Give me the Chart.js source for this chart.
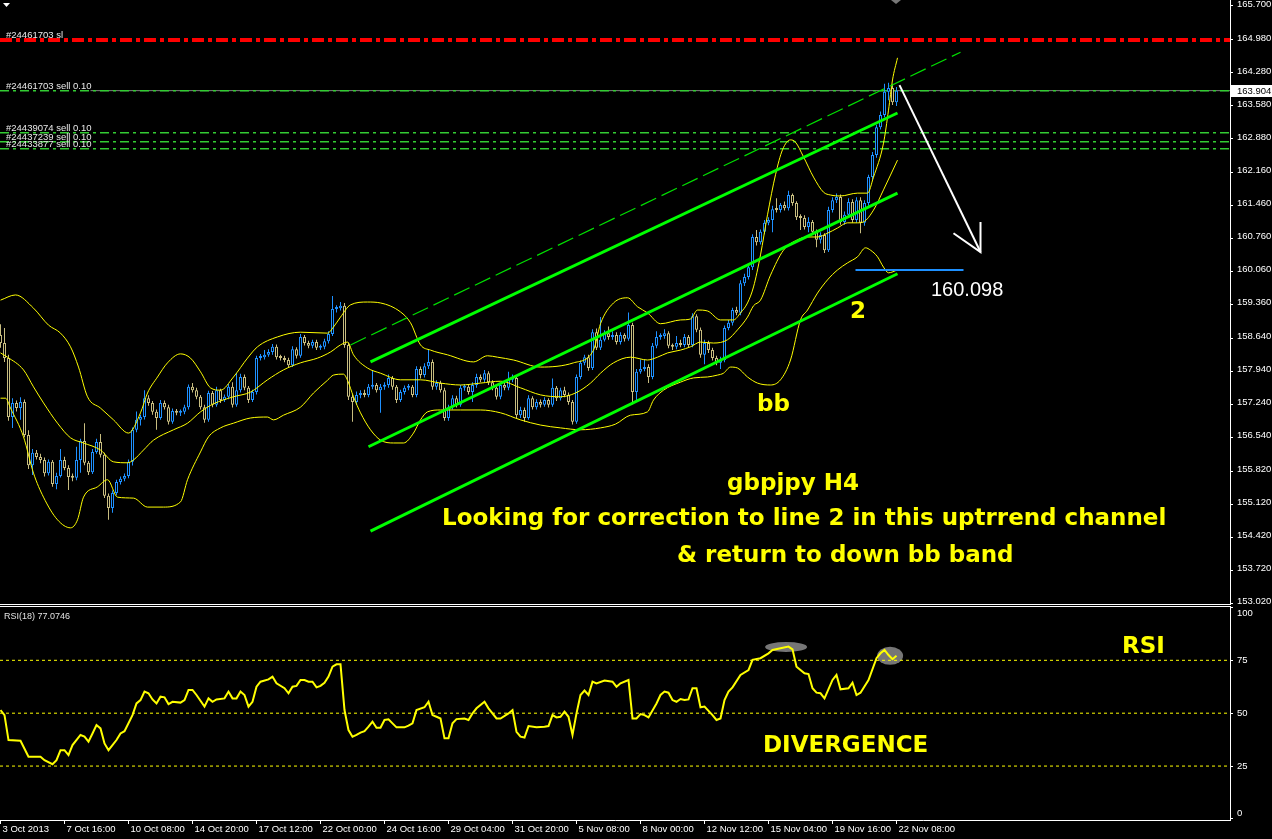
<!DOCTYPE html>
<html>
<head>
<meta charset="utf-8">
<script src="https://cdn.jsdelivr.net/npm/chart.js@4.4.0/dist/chart.umd.min.js"></script>
<style>
  html, body { margin: 0; padding: 0; background: #000; overflow: hidden; }
  #main { position: absolute; left: 0; top: 0; }
  #rsi { position: absolute; left: 0; top: 597px; }
</style>
</head>
<body>
<canvas id="main" width="1272" height="612"></canvas>
<canvas id="rsi" width="1272" height="242"></canvas>
<script>
// gbpjpy H4 - candles, bollinger bands, channel, RSI(18)

const firstOpen = 158.72;
const closes = [
  158.55,158.23,156.98,157.28,157.17,157.30,156.60,155.96,156.22,156.13,
  156.07,155.79,156.03,155.56,155.73,156.07,155.90,155.71,155.69,156.07,
  156.47,156.01,155.81,156.24,156.45,156.18,155.31,155.05,155.37,155.60,
  155.67,155.73,156.03,156.71,156.92,156.98,157.38,157.28,157.09,156.96,
  157.28,157.19,156.88,157.11,157.07,157.09,157.19,157.62,157.55,157.41,
  157.19,156.92,157.49,157.24,157.55,157.34,157.41,157.62,157.24,157.55,
  157.83,157.60,157.34,157.51,158.23,158.25,158.30,158.36,158.47,158.25,
  158.23,158.19,158.08,158.42,158.28,158.68,158.55,158.49,158.57,158.45,
  158.47,158.59,158.74,159.27,159.29,159.34,158.51,157.41,157.30,157.45,
  157.49,157.45,157.62,157.66,157.55,157.62,157.66,157.81,157.62,157.34,
  157.51,157.60,157.62,157.45,158.00,157.87,158.06,158.15,157.62,157.70,
  157.55,156.96,157.19,157.38,157.24,157.60,157.62,157.51,157.66,157.83,
  157.77,157.91,157.72,157.60,157.41,157.66,157.60,157.77,157.81,157.02,
  157.13,156.96,157.38,157.19,157.30,157.24,157.34,157.24,157.60,157.38,
  157.55,157.45,157.30,156.88,157.83,158.13,158.25,158.02,158.78,158.45,
  158.62,158.76,158.68,158.72,158.57,158.72,158.64,158.93,157.51,157.94,
  158.00,158.04,157.83,158.49,158.68,158.70,158.76,158.49,158.47,158.55,
  158.51,158.68,158.51,159.12,158.83,158.30,158.55,158.40,158.23,158.13,
  158.19,158.87,158.98,159.25,159.19,159.82,159.95,160.16,160.80,160.69,
  160.91,161.10,161.16,161.39,161.37,161.48,161.41,161.69,161.52,161.22,
  161.20,161.01,161.12,160.91,160.74,160.84,160.52,161.37,161.58,161.65,
  161.12,161.27,161.54,161.16,161.58,161.10,161.52,162.07,162.54,163.13,
  163.39,163.88,163.96,163.66,163.90
];
const highs = [
  158.95,158.87,158.30,157.38,157.33,157.40,157.35,156.70,156.30,156.28,
  156.20,156.12,156.08,156.07,155.80,156.30,156.14,155.96,155.78,156.35,
  156.52,156.85,156.05,156.30,156.52,156.62,156.22,155.36,155.42,155.65,
  155.72,155.78,156.08,156.76,157.10,157.03,157.55,157.44,157.32,157.14,
  157.34,157.33,157.24,157.16,157.15,157.14,157.24,157.67,157.70,157.60,
  157.45,157.24,157.54,157.53,157.62,157.58,157.46,157.68,157.72,157.92,
  157.90,157.88,157.64,157.56,158.28,158.32,158.40,158.42,158.53,158.52,
  158.30,158.28,158.24,158.48,158.46,158.74,158.72,158.60,158.62,158.62,
  158.52,158.64,158.80,159.55,159.35,159.42,159.40,158.56,157.46,157.52,
  157.55,157.56,157.68,157.96,157.70,157.68,157.72,157.88,157.85,157.66,
  157.56,157.65,157.68,157.66,158.06,158.05,158.12,158.40,158.20,157.76,
  157.75,157.60,157.24,157.44,157.43,157.66,157.68,157.67,157.72,157.90,
  157.88,157.98,157.95,157.76,157.64,157.72,157.70,157.94,157.88,157.86,
  157.20,157.18,157.44,157.42,157.36,157.35,157.40,157.38,157.80,157.64,
  157.60,157.62,157.50,157.34,157.88,158.18,158.30,158.30,158.84,158.86,
  159.10,158.82,158.90,158.80,158.78,158.78,158.76,159.20,158.98,158.00,
  158.20,158.20,158.10,158.55,158.80,158.76,158.84,158.80,158.54,158.70,
  158.62,158.74,158.72,159.18,159.16,158.88,158.62,158.60,158.45,158.28,
  158.26,158.92,159.04,159.30,159.32,159.88,160.02,160.22,160.86,160.95,
  160.96,161.16,161.22,161.46,161.62,161.52,161.55,161.78,161.72,161.56,
  161.28,161.26,161.22,161.16,160.96,160.90,160.88,161.44,161.64,161.72,
  161.70,161.34,161.62,161.60,161.64,161.64,161.58,162.12,162.60,163.18,
  163.46,164.05,164.07,164.05,163.98
];
const lows = [
  158.45,158.15,156.90,156.75,157.10,156.92,156.55,155.88,155.75,156.08,
  156.00,155.72,155.74,155.50,155.45,155.70,155.85,155.43,155.62,155.64,
  155.80,155.96,155.75,155.77,156.20,156.12,155.26,154.80,154.95,155.32,
  155.55,155.62,155.68,155.95,156.66,156.80,156.93,157.22,157.03,156.71,
  156.92,157.14,156.82,156.84,157.02,157.00,157.04,157.14,157.50,157.36,
  157.14,156.86,156.88,157.19,157.20,157.28,157.30,157.36,157.18,157.20,
  157.50,157.55,157.28,157.30,157.46,158.18,158.20,158.26,158.30,158.20,
  158.18,158.14,158.02,158.04,158.22,158.24,158.50,158.44,158.44,158.40,
  158.40,158.42,158.54,158.70,159.20,159.24,158.45,157.34,156.88,157.24,
  157.38,157.40,157.40,157.57,157.50,157.07,157.56,157.60,157.56,157.28,
  157.30,157.46,157.55,157.40,157.40,157.80,157.82,158.00,157.56,157.56,
  157.50,156.90,156.90,157.14,157.18,157.20,157.54,157.46,157.30,157.60,
  157.72,157.72,157.66,157.55,157.35,157.36,157.55,157.55,157.72,156.96,
  156.96,156.88,156.92,157.14,157.14,157.18,157.20,157.18,157.20,157.32,
  157.33,157.40,157.24,156.82,156.84,157.78,158.08,157.96,157.98,158.40,
  158.40,158.58,158.62,158.62,158.52,158.52,158.58,158.60,157.25,157.30,
  157.90,157.95,157.70,157.78,158.44,158.62,158.64,158.44,158.40,158.42,
  158.46,158.46,158.46,158.46,158.78,158.24,158.10,158.34,158.18,158.08,
  158.00,158.14,158.82,158.92,159.14,159.14,159.76,159.90,160.10,160.62,
  160.64,160.86,161.05,160.90,161.32,161.32,161.36,161.36,161.46,161.16,
  160.95,160.96,160.90,160.86,160.58,160.66,160.46,160.48,161.32,161.52,
  161.06,161.06,161.22,161.10,161.10,160.88,161.04,161.46,162.00,162.48,
  163.08,163.34,163.70,163.60,163.58
];

// bollinger bands: [bar, price]
const bbUpper = [
  [0,159.46],[3.75,159.57],[8.25,159.29],[12,158.93],[15,158.76],[17.5,158.47],[19.5,158.04],
  [21.75,157.41],[25,157.17],[28.25,156.92],[32,156.64],[35,157.07],[36.75,157.49],[39.25,157.83],
  [41.75,158.13],[45,158.32],[47.5,158.23],[50,157.94],[52.5,157.60],[55,157.55],[58.25,157.83],
  [61.75,158.23],[64.25,158.47],[69.25,158.68],[75,158.78],[81.75,158.76],[83.25,158.89],[85,159.10],
  [87.5,159.36],[91.75,159.42],[95,159.40],[100,159.21],[102.5,158.98],[105,158.51],[107.5,158.40],
  [111.75,158.30],[118.25,158.15],[121.75,158.28],[124.25,158.25],[128.25,158.19],[135,158.04],
  [143.25,158.13],[148.25,158.40],[150,158.96],[153.25,159.40],[156.75,159.51],[159.25,159.32],
  [161.75,159.19],[165,158.96],[170,159.04],[172.5,159.06],[174.25,159.25],[176.75,159.23],
  [180,159.04],[183.25,159.04],[185,159.19],[186.75,159.40],[188.25,159.74],[190,160.42],
  [191.75,161.27],[193.75,162.12],[195.5,162.65],[197.5,162.86],[198.75,162.81],[200.75,162.50],
  [203.25,162.07],[205.75,161.75],[207.5,161.69],[210,161.67],[214.25,161.73],[216.75,161.73],
  [218.25,162.07],[220.75,162.79],[222,163.49],[223,164.13],[224.25,164.60]
];
const bbMiddle = [
  [0,158.34],[1.75,158.25],[5.75,157.98],[8.25,157.62],[10.75,157.28],[14.25,156.85],[17.5,156.54],
  [20.75,156.43],[25,156.28],[28.25,156.03],[31.75,156.01],[33.25,156.07],[35.75,156.28],[38.25,156.49],
  [43.25,156.71],[46.75,156.85],[50,157.09],[53.25,157.26],[58.25,157.41],[62.5,157.51],[66.75,157.77],
  [70.75,157.98],[75,158.13],[79.25,158.23],[82.5,158.36],[85,158.51],[86.75,158.57],[88.25,158.30],
  [91.75,158.02],[95,157.91],[100,157.77],[105,157.77],[110,157.70],[115,157.66],[120,157.70],
  [125,157.74],[130,157.60],[135,157.45],[140,157.41],[143.75,157.49],[147.5,157.70],[150,157.91],
  [153.25,158.13],[157.5,158.25],[161.75,158.19],[164.25,158.25],[166.75,158.34],[170,158.40],
  [172.5,158.47],[175,158.57],[178.25,158.55],[181.75,158.62],[184.25,158.83],[186.75,159.10],
  [188.25,159.34],[190,159.46],[192.5,159.99],[195.75,160.52],[199.25,160.74],[201.75,160.80],
  [204.25,160.80],[206.75,160.88],[209.25,160.99],[211.75,161.10],[214.25,161.10],[215.75,161.12],
  [218.25,161.37],[220.75,161.80],[224.25,162.43]
];
const bbLower = [
  [0,157.38],[1.25,157.38],[2.5,157.17],[5.75,156.56],[8.25,155.79],[10.75,155.28],[14.25,154.80],
  [17.5,154.63],[19.25,154.80],[20.75,155.28],[24.25,155.50],[26.75,155.65],[29.25,155.28],[33.25,155.26],
  [36.75,155.07],[40.75,155.07],[45,155.18],[46.75,155.65],[50,156.24],[52,156.56],[55,156.75],
  [58.25,156.85],[62.5,156.96],[66.75,156.98],[68.25,156.92],[70.75,157.02],[75,157.19],[78.25,157.49],
  [81.75,157.76],[83.25,157.87],[85.75,157.89],[86.75,157.76],[88.25,157.41],[90,157.07],[92.5,156.71],
  [95,156.49],[98.25,156.43],[100.75,156.43],[103.25,156.64],[105,156.92],[106.75,157.09],[110,157.13],
  [115,157.13],[120,157.13],[125,157.07],[130,156.92],[135,156.81],[140,156.75],[145,156.71],
  [150,156.75],[153.75,156.83],[157.5,157.02],[161.75,157.09],[163.25,157.34],[165.75,157.55],
  [170,157.72],[173.25,157.81],[176.75,157.83],[179.25,157.87],[180.75,157.91],[182.5,158.04],
  [184.25,158.02],[186.75,157.83],[189.25,157.70],[192.5,157.66],[195,157.77],[197.5,158.19],
  [200,159.04],[201.75,159.25],[204.25,159.61],[206.75,159.89],[209.25,160.10],[211.75,160.25],
  [214.25,160.38],[216.25,160.57],[217.5,160.52],[219.25,160.38],[220.75,160.16],[222,160.04],[224.25,160.10]
];

// trend channel (two end points each)
const channelTop = [[92.5,158.15],[224.25,163.43]];
const channelMid = [[92,156.35],[224.25,161.73]];
const channelLow = [[92.5,154.56],[224.25,160.02]];
const channelProj = [[87.5,158.51],[240,164.72]];

// order levels
const stopLevel = 164.98;
const sellLevels = [163.90, 163.01, 162.82, 162.67];
const bidPrice = 163.904;
const targetPrice = 160.098;
const targetBars = [213.75, 240.75];
const arrowShaft = [[224.75,164.02],[245,160.48]];
const arrowHead = [[238.25,160.88],[245,160.48],[245,161.12]];

const orderTags = [
  ['#24461703 sl', 164.98],
  ['#24461703 sell 0.10', 163.90],
  ['#24439074 sell 0.10', 163.01],
  ['#24437239 sell 0.10', 162.82],
  ['#24433877 sell 0.10', 162.67]
];

const priceTicks = [165.700,164.980,164.280,163.580,162.880,162.160,161.460,160.760,160.060,159.360,
  158.640,157.940,157.240,156.540,155.820,155.120,154.420,153.720,153.020];

// RSI(18): [bar, value]
const rsiPoints = [
  [0,51.5],[1,49.1],[2,37.3],[5,37.0],[7,29.4],[10,29.4],[11,27.8],[13,25.9],[14,27.8],[15,32.5],
  [16,32.5],[17,30.2],[18,34.9],[20,39.7],[21,38.9],[22,36.5],[23,40.4],[24,44.4],[25,42.8],[26,35.7],
  [27,32.5],[29,37.3],[30,40.4],[31,41.5],[33,49.1],[34,54.6],[35,56.2],[36,60.2],[37,59.4],[38,56.5],
  [39,54.6],[40,57.8],[41,57.5],[42,54.3],[43,55.4],[45,55.0],[46,56.2],[47,61.0],[48,61.0],[49,58.6],
  [51,53.1],[52,57.0],[53,55.4],[54,56.5],[56,57.0],[57,60.2],[58,57.0],[59,57.0],[60,60.2],[61,58.6],
  [62,53.1],[63,55.4],[64,62.5],[65,64.9],[67,66.0],[68,67.3],[69,64.1],[71,61.8],[72,59.4],[73,62.5],
  [74,62.9],[75,65.7],[76,65.7],[77,64.9],[78,64.9],[79,62.2],[80,62.9],[81,64.4],[82,67.3],[83,72.0],
  [84,73.1],[85,73.1],[86,51.5],[87,42.0],[88,38.9],[89,39.7],[90,40.8],[91,41.5],[92,43.6],[93,46.0],
  [94,43.1],[95,43.1],[96,46.8],[97,47.1],[98,45.2],[99,43.3],[101,43.3],[102,44.1],[103,45.2],[104,51.5],
  [106,52.8],[107,55.4],[108,49.1],[109,48.3],[110,47.5],[111,38.1],[112,38.1],[113,45.2],[114,47.2],
  [116,47.5],[117,46.8],[118,49.9],[119,52.3],[121,55.4],[122,52.3],[124,47.5],[125,47.5],[127,49.9],
  [128,51.5],[129,41.2],[130,38.9],[131,38.5],[132,43.9],[134,43.3],[136,43.6],[137,43.9],[138,49.1],
  [139,48.0],[140,48.3],[141,50.7],[142,48.3],[143,39.7],[144,49.9],[145,58.6],[146,60.7],[147,58.6],
  [148,64.9],[149,64.1],[151,65.4],[153,64.9],[154,62.5],[155,64.1],[157,65.7],[158,47.5],[159,47.5],
  [160,49.6],[161,49.1],[162,48.0],[164,54.6],[165,58.6],[166,60.2],[167,59.7],[168,56.2],[169,55.4],
  [170,56.7],[171,56.2],[172,56.5],[173,61.8],[174,61.8],[175,52.8],[176,53.1],[178,49.1],[179,46.8],
  [180,47.5],[181,56.2],[182,60.2],[183,62.2],[185,68.1],[187,70.4],[188,75.2],[190,76.0],[192,78.3],
  [193,79.9],[197,81.5],[198,80.2],[199,72.0],[201,68.9],[202,68.5],[203,61.8],[204,59.7],[205,59.4],
  [206,57.0],[208,65.7],[209,68.1],[210,61.3],[212,61.8],[213,64.4],[214,58.6],[215,59.7],[217,65.7],
  [219,76.0],[220,78.3],[221,79.9],[222,77.5],[223,75.5],[224,77.1]
];
const rsiLevels = [75, 50, 25];
const rsiTicks = [0, 25, 50, 75, 100];
const rsiMarks = [[196.4, 81.3, 21, 5], [222.4, 77.1, 13, 9]];

const labelBars = [0,16,32,48,64,80,96,112,128,144,160,176,192,208,224];
const barLabels = ['3 Oct 2013','7 Oct 16:00','10 Oct 08:00','14 Oct 20:00','17 Oct 12:00','22 Oct 00:00',
  '24 Oct 16:00','29 Oct 04:00','31 Oct 20:00','5 Nov 08:00','8 Nov 00:00','12 Nov 12:00',
  '15 Nov 04:00','19 Nov 16:00','22 Nov 08:00'];

// ---- build ----
const X_MIN = -0.125;
const X_MAX = X_MIN + 1230 / 4;
const Y_TOP = 165.827;
const Y_BOTTOM = 153.014;
const BLUE = '#1e90ff';
const TAN = '#c8bd80';
const AXIS_FONT = { family: 'Liberation Sans', size: 9.5 };

const pts = arr => arr.map(([x, y]) => ({ x, y }));
const level = (y, x0 = X_MIN, x1 = X_MAX) => [{ x: x0, y }, { x: x1, y }];

const opens = closes.map((c, i) => i === 0 ? firstOpen : closes[i - 1]);
const candleColors = closes.map((c, i) => c >= opens[i] ? BLUE : TAN);
const wickData = closes.map((c, i) => ({ x: i, y: [lows[i], highs[i]] }));
const bodyData = closes.map((c, i) => ({ x: i, y: [Math.min(opens[i], c), Math.max(opens[i], c)] }));

const lineDs = (data, color, width, order, extra = {}) => Object.assign({
  type: 'line', data, borderColor: color, borderWidth: width, pointRadius: 0,
  pointHoverRadius: 0, fill: false, order
}, extra);

const mainOverlay = {
  id: 'mainOverlay',
  afterDraw(chart) {
    const { ctx, scales: { y } } = chart;
    ctx.save();
    // order tags
    ctx.font = '9.5px "Liberation Sans"';
    ctx.fillStyle = '#e8e8e8';
    ctx.textBaseline = 'alphabetic';
    orderTags.forEach(([t, lv]) => ctx.fillText(t, 6, y.getPixelForValue(lv) - 2));

    // comments
    ctx.font = 'bold 23px "DejaVu Sans"';
    ctx.fillStyle = '#ffff00';
    ctx.fillText('gbpjpy H4', 727, 490);
    ctx.fillText('Looking for correction to line 2 in this uptrrend channel', 442, 525);
    ctx.fillText('& return to down bb band', 677, 562);
    ctx.fillText('2', 850, 318);
    ctx.fillText('bb', 757, 411);

    ctx.font = '20px "Liberation Sans"';
    ctx.fillStyle = '#ffffff';
    ctx.fillText(targetPrice.toFixed(3), 931, 296);

    // bid label on the price axis
    const by = Math.round(y.getPixelForValue(bidPrice));
    ctx.fillStyle = '#ffffff';
    ctx.fillRect(1231, by - 6, 41, 12);
    ctx.fillStyle = '#000000';
    ctx.font = '9.5px "Liberation Sans"';
    ctx.textBaseline = 'middle';
    ctx.fillText(bidPrice.toFixed(3), 1237, by + 0.5);

    // small markers at the top
    ctx.fillStyle = '#ffffff';
    ctx.beginPath(); ctx.moveTo(3, 3); ctx.lineTo(10, 3); ctx.lineTo(6.5, 7); ctx.fill();
    ctx.fillStyle = '#777777';
    ctx.beginPath(); ctx.moveTo(891, 0); ctx.lineTo(901, 0); ctx.lineTo(896, 4); ctx.fill();
    ctx.restore();
  }
};

new Chart(document.getElementById('main'), {
  type: 'bar',
  data: {
    datasets: [
      lineDs(pts(arrowShaft), '#ffffff', 2, 1),
      lineDs(pts(arrowHead), '#ffffff', 2, 1),
      lineDs(level(targetPrice, targetBars[0], targetBars[1]), BLUE, 2, 1),
      lineDs(pts(channelTop), '#00ff00', 3, 2),
      lineDs(pts(channelMid), '#00ff00', 3, 2),
      lineDs(pts(channelLow), '#00ff00', 3, 2),
      lineDs(pts(channelProj), '#00e000', 1.2, 2, { borderDash: [17, 6] }),
      lineDs(pts(bbUpper), '#ffff00', 1, 3, { cubicInterpolationMode: 'monotone' }),
      lineDs(pts(bbMiddle), '#ffff00', 1, 3, { cubicInterpolationMode: 'monotone' }),
      lineDs(pts(bbLower), '#ffff00', 1, 3, { cubicInterpolationMode: 'monotone' }),
      {
        type: 'bar', data: bodyData, order: 4, grouped: false, barThickness: 3,
        backgroundColor: '#000000', borderColor: candleColors, borderWidth: 1,
        borderSkipped: false, minBarLength: 2, inflateAmount: 0
      },
      {
        type: 'bar', data: wickData, order: 5, grouped: false, barThickness: 1,
        backgroundColor: candleColors, borderWidth: 0, inflateAmount: 0
      },
      ...sellLevels.map(v => lineDs(level(v), '#33cc33', 1.5, 6, { borderDash: [9, 4, 3, 4] })),
      lineDs(level(stopLevel), '#ff0000', 4, 6, { borderDash: [12, 4, 4, 4] }),
      lineDs(level(bidPrice, 22.5), '#808080', 1, 7)
    ]
  },
  options: {
    responsive: false,
    animation: false,
    devicePixelRatio: 1,
    events: [],
    layout: { padding: { left: 0, right: 0, top: 0, bottom: 8 } },
    plugins: { legend: { display: false }, tooltip: { enabled: false } },
    scales: {
      x: { type: 'linear', min: X_MIN, max: X_MAX, display: false, offset: false, grid: { offset: false } },
      y: {
        type: 'linear', position: 'right', min: Y_BOTTOM, max: Y_TOP,
        afterBuildTicks: s => { s.ticks = priceTicks.map(v => ({ value: v })); },
        afterFit: s => { s.width = 42; s.paddingTop = 0; s.paddingBottom = 0; },
        ticks: {
          color: '#ffffff', font: AXIS_FONT, padding: 4, labelOffset: -2, autoSkip: false,
          callback: v => v.toFixed(3)
        },
        grid: { drawOnChartArea: false, color: '#ffffff', tickLength: 3 },
        border: { color: '#ffffff' }
      }
    }
  },
  plugins: [mainOverlay]
});

const rsiOverlay = {
  id: 'rsiOverlay',
  beforeDatasetsDraw(chart) {
    const { ctx, scales: { x, y } } = chart;
    ctx.save();
    ctx.fillStyle = '#767676';
    rsiMarks.forEach(([bx, v, rx, ry]) => {
      ctx.beginPath();
      ctx.ellipse(x.getPixelForValue(bx), y.getPixelForValue(v), rx, ry, 0, 0, Math.PI * 2);
      ctx.fill();
    });
    ctx.restore();
  },
  afterDraw(chart) {
    const { ctx, scales: { y } } = chart;
    ctx.save();
    ctx.fillStyle = '#ffffff';
    ctx.fillRect(0, 7, 1231, 1);
    ctx.fillRect(0, 9, 1231, 1);
    // end labels of the RSI axis sit inside the panel
    ctx.font = '9.5px "Liberation Sans"';
    ctx.textBaseline = 'middle';
    ctx.fillText('100', 1237, y.getPixelForValue(100) + 6);
    ctx.fillText('0', 1237, y.getPixelForValue(0) - 6);
    ctx.textBaseline = 'alphabetic';
    ctx.font = '9px "Liberation Sans"';
    ctx.fillStyle = '#e0e0e0';
    ctx.fillText('RSI(18) 77.0746', 4, 22);
    ctx.font = 'bold 23px "DejaVu Sans"';
    ctx.fillStyle = '#ffff00';
    ctx.fillText('RSI', 1122, 56);
    ctx.fillText('DIVERGENCE', 763, 155);
    ctx.restore();
  }
};

new Chart(document.getElementById('rsi'), {
  type: 'line',
  data: {
    datasets: [
      lineDs(pts(rsiPoints), '#ffff00', 2, 1),
      ...rsiLevels.map(v => lineDs(level(v), '#ffff00', 1, 2, { borderDash: [3, 3] }))
    ]
  },
  options: {
    responsive: false,
    animation: false,
    devicePixelRatio: 1,
    events: [],
    layout: { padding: { left: 0, right: 0, top: 10, bottom: 0 } },
    plugins: { legend: { display: false }, tooltip: { enabled: false } },
    scales: {
      x: {
        type: 'linear', min: X_MIN, max: X_MAX, offset: false,
        afterBuildTicks: s => { s.ticks = labelBars.map(v => ({ value: v })); },
        afterFit: s => { s.height = 19; s.paddingLeft = 0; s.paddingRight = 0; },
        ticks: {
          color: '#ffffff', font: AXIS_FONT, align: 'start', labelOffset: 2, padding: 0,
          maxRotation: 0, autoSkip: false,
          callback: v => barLabels[labelBars.indexOf(v)] ?? ''
        },
        grid: { drawOnChartArea: false, color: '#ffffff', tickLength: 4 },
        border: { color: '#ffffff' }
      },
      y: {
        type: 'linear', position: 'right', min: -0.5, max: 100.2,
        afterBuildTicks: s => { s.ticks = rsiTicks.map(v => ({ value: v })); },
        afterFit: s => { s.width = 42; s.paddingTop = 0; s.paddingBottom = 0; },
        ticks: {
          color: '#ffffff', font: AXIS_FONT, padding: 4, autoSkip: false,
          callback: v => (v === 0 || v === 100) ? '' : String(v)
        },
        grid: { drawOnChartArea: false, color: '#ffffff', tickLength: 3 },
        border: { color: '#ffffff' }
      }
    }
  },
  plugins: [rsiOverlay]
});
</script>
</body>
</html>
